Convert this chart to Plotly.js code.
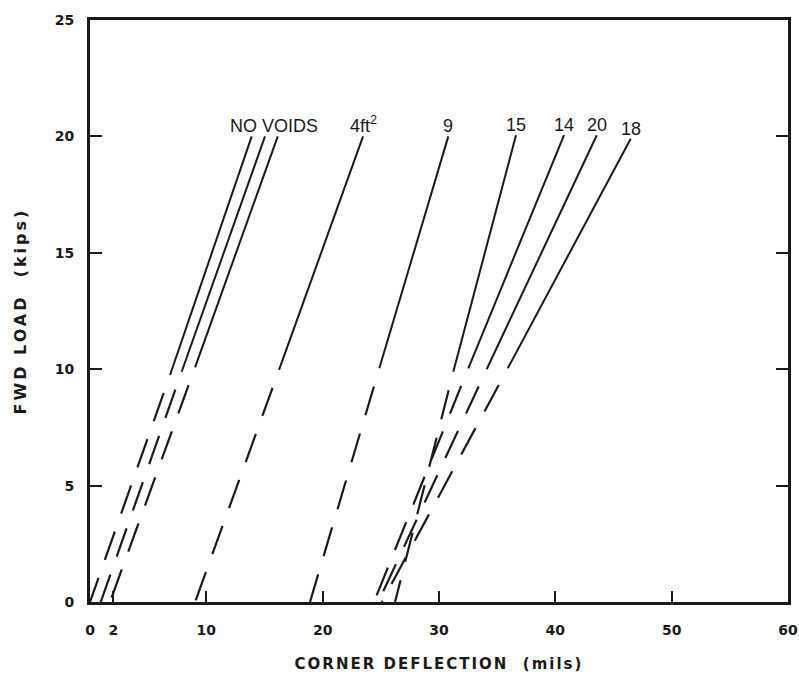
<!DOCTYPE html>
<html>
<head>
<meta charset="utf-8">
<script src="https://cdn.plot.ly/plotly-3.0.1.min.js"></script>
<style>
  html, body { margin: 0; padding: 0; background: #ffffff; }
  #chart { width: 799px; height: 681px; }
</style>
</head>
<body>
<div id="chart"></div>
<script>
// Void size series (corner deflection vs FWD load)
const seriesNames = ["No voids A", "No voids B", "No voids C", "4 ft²", "9 ft²", "15 ft²", "14 ft²", "20 ft²", "18 ft²"];
const labelTexts = ["", "NO VOIDS", "", "4ft<sup>2</sup>", "9", "15", "14", "20", "18"];
// deflection (mils) at zero load (extrapolated, dashed part start)
const deflAtZeroLoad = [0.0, 0.92, 1.72, 9.03, 18.91, 26.22, 24.41, 24.78, 25.08];
// load (kips) where the measured (solid) part starts
const breakLoad = [9.75, 9.89, 10.08, 9.97, 10.04, 9.89, 10.04, 10.0, 10.04];
const deflAtBreak = [6.88, 7.88, 9.03, 16.25, 24.87, 31.23, 32.52, 34.1, 35.91];
// top of the solid part
const topLoad = [20, 20, 20, 20, 20, 20.05, 20.05, 20.05, 19.9];
const deflAtTop = [13.9, 15.04, 16.14, 23.47, 30.8, 36.62, 40.75, 43.56, 46.48];

const xTickVals = [0, 2, 10, 20, 30, 40, 50, 60];
const xTickText = ["0", "2", "10", "20", "30", "40", "50", "60"];
const yTickVals = [0, 5, 10, 15, 20, 25];
const yTickText = ["0", "5", "10", "15", "20", "25"];
const xTitle = "CORNER DEFLECTION  (mils)";
const yTitle = "FWD LOAD  (kips)";

const ink = "#1a1a1a";
const traces = [];
const annotations = [];
seriesNames.forEach((name, i) => {
  // dashed (extrapolated) part, drawn from the break point down to zero load
  traces.push({
    type: "scatter", mode: "lines", name: name + " (extrapolated)",
    x: [deflAtBreak[i], deflAtZeroLoad[i]],
    y: [breakLoad[i], 0],
    line: { color: ink, width: 2.2, dash: "0px,19px,30px,0px" },
    hoverinfo: "skip", showlegend: false
  });
  // solid (measured) part
  traces.push({
    type: "scatter", mode: "lines", name: name,
    x: [deflAtBreak[i], deflAtTop[i]],
    y: [breakLoad[i], topLoad[i]],
    line: { color: ink, width: 2 },
    hoverinfo: "skip", showlegend: false
  });
  if (labelTexts[i]) {
    annotations.push({
      x: deflAtTop[i], y: topLoad[i], xref: "x", yref: "y",
      text: labelTexts[i], showarrow: false,
      xanchor: "center", yanchor: "bottom",
      xshift: i === 1 ? 9 : 0, yshift: -2,
      font: { family: "Liberation Sans, Arial, sans-serif", size: 18, color: ink }
    });
  }
});

const tickFont = { family: "DejaVu Sans, sans-serif", size: 14, color: ink, weight: "bold" };
const xTitleFont = { family: "DejaVu Sans, sans-serif", size: 15, color: ink, weight: "bold" };
const yTitleFont = { family: "DejaVu Sans, sans-serif", size: 16, color: ink, weight: "bold" };

const layout = {
  width: 799, height: 681,
  margin: { l: 90, r: 11, t: 20, b: 79 },
  paper_bgcolor: "#ffffff", plot_bgcolor: "#ffffff",
  showlegend: false,
  xaxis: {
    range: [0, 60], tickvals: xTickVals, ticktext: xTickText,
    ticks: "inside", ticklen: 11, tickwidth: 2, tickcolor: ink,
    showline: true, linewidth: 3, linecolor: ink, mirror: true,
    showgrid: false, zeroline: false, fixedrange: true,
    tickfont: tickFont, ticklabelstandoff: 13,
    title: { text: '<span style="letter-spacing:2px">' + xTitle + '</span>', font: xTitleFont, standoff: 22 }
  },
  yaxis: {
    range: [0, 25], tickvals: yTickVals, ticktext: yTickText,
    ticks: "inside", ticklen: 12, tickwidth: 2, tickcolor: ink,
    showline: true, linewidth: 3, linecolor: ink, mirror: "ticks",
    showgrid: false, zeroline: false, fixedrange: true,
    tickfont: tickFont, ticklabelstandoff: 10,
    title: { text: '<span style="letter-spacing:3px">' + yTitle + '</span>', font: yTitleFont, standoff: 25 }
  },
  annotations: annotations
};

Plotly.newPlot("chart", traces, layout, { staticPlot: true, displayModeBar: false });
</script>
</body>
</html>
